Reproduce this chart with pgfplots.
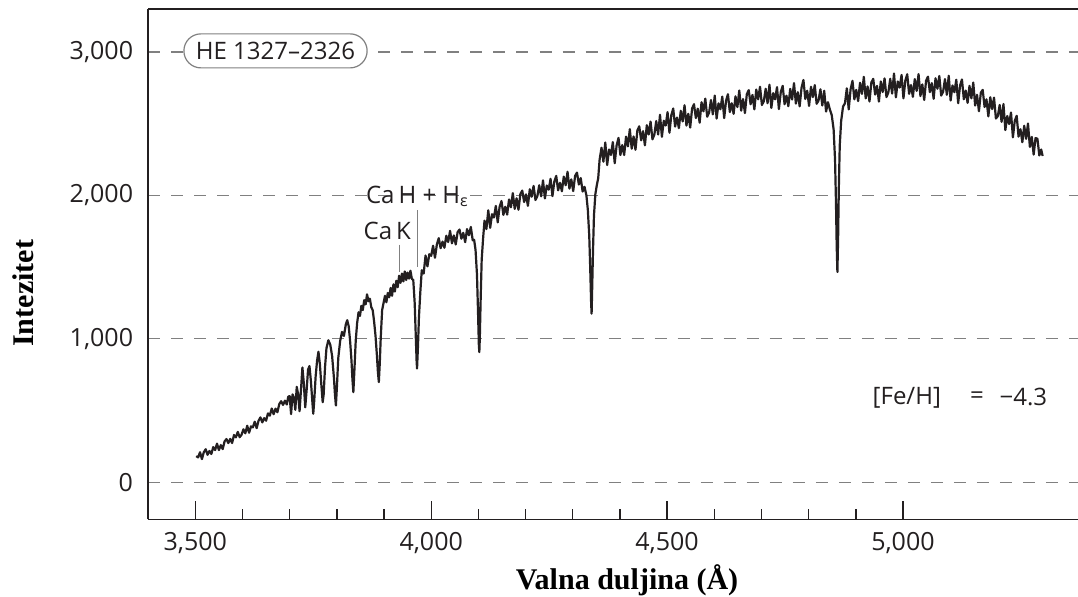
\documentclass[border=0pt]{standalone}
\usepackage{fontspec}
\setmainfont{Open Sans}
\newfontfamily\seriffont{Liberation Serif}
\usepackage{pgfplots}
\usepackage{pgfplotstable}
\pgfplotsset{compat=1.18}
\definecolor{gridgray}{RGB}{128,128,128}
\definecolor{ink}{RGB}{35,31,32}
\pgfplotstableread{
lam I
3502 182
3506 173
3510 209
3514 161
3518 209
3522 230
3526 191
3530 218
3534 197
3538 245
3542 224
3546 269
3550 224
3554 259
3558 231
3562 284
3566 301
3570 273
3574 302
3578 273
3582 329
3586 313
3590 351
3594 314
3598 331
3602 369
3606 341
3610 394
3614 345
3618 389
3622 383
3626 422
3630 377
3634 428
3638 452
3642 417
3646 447
3650 429
3654 480
3658 464
3662 514
3666 474
3670 513
3674 488
3678 545
3682 565
3686 539
3690 569
3694 542
3697 597
3700 600
3703 475
3706 612
3709 592
3712 505
3715 665
3718 612
3721 495
3724 645
3727 800
3730 690
3733 522
3736 645
3739 785
3742 810
3745 705
3748 565
3750 477
3752 565
3755 735
3758 845
3761 910
3764 825
3767 685
3770 558
3772 610
3775 805
3778 935
3782 990
3786 960
3790 880
3794 720
3796 610
3798 535
3800 655
3803 865
3807 985
3811 1048
3815 1020
3819 1100
3822 1130
3825 1090
3828 990
3831 850
3833 720
3835 628
3837 765
3840 985
3843 1110
3846 1185
3849 1160
3852 1230
3855 1200
3858 1270
3861 1240
3864 1310
3867 1262
3870 1280
3873 1220
3876 1200
3879 1120
3882 1020
3885 880
3887 770
3889 698
3891 830
3893 1005
3896 1200
3899 1250
3902 1300
3905 1255
3908 1320
3911 1290
3914 1355
3917 1300
3920 1380
3923 1330
3926 1405
3929 1360
3932 1440
3935 1390
3938 1455
3941 1400
3944 1470
3947 1410
3950 1462
3953 1420
3956 1475
3959 1418
3962 1410
3965 1250
3967 1050
3969 850
3970 793
3972 950
3974 1150
3977 1330
3980 1478
3984 1455
3988 1581
3992 1505
3996 1590
4000 1579
4004 1649
4008 1565
4012 1658
4016 1702
4020 1632
4024 1678
4028 1635
4032 1719
4036 1675
4040 1753
4044 1666
4048 1721
4052 1658
4056 1744
4060 1762
4064 1698
4068 1739
4072 1674
4076 1765
4080 1722
4084 1780
4088 1687
4091 1690
4094 1620
4097 1450
4099 1220
4101 960
4102 907
4103 1000
4105 1300
4107 1550
4110 1700
4113 1824
4117 1765
4121 1896
4125 1774
4129 1869
4133 1846
4137 1927
4141 1812
4145 1921
4149 1961
4153 1864
4157 1921
4161 1866
4165 1972
4169 1917
4173 2016
4177 1906
4181 1980
4185 1900
4189 2009
4193 2034
4197 1954
4201 2007
4205 1927
4209 2043
4213 1991
4217 2066
4221 1968
4225 1995
4229 2071
4233 1994
4237 2105
4241 1979
4245 2069
4249 2040
4253 2116
4257 1995
4261 2097
4265 2136
4269 2035
4273 2088
4277 2029
4281 2131
4285 2071
4289 2165
4293 2047
4297 2112
4301 2030
4305 2136
4309 2159
4313 2076
4317 2121
4321 2027
4325 2060
4329 2000
4332 1900
4335 1720
4337 1500
4339 1250
4340 1175
4341 1320
4343 1620
4345 1860
4348 2010
4351 2070
4354 2120
4357 2250
4361 2333
4365 2235
4369 2369
4373 2212
4377 2320
4381 2282
4385 2372
4389 2225
4393 2349
4397 2401
4401 2282
4405 2351
4409 2282
4413 2410
4417 2342
4421 2462
4425 2326
4429 2411
4433 2318
4437 2453
4441 2482
4445 2384
4449 2448
4453 2349
4457 2490
4461 2425
4465 2515
4469 2391
4473 2424
4477 2519
4481 2425
4485 2562
4489 2409
4493 2521
4497 2487
4501 2581
4505 2437
4509 2560
4513 2606
4517 2480
4521 2543
4525 2469
4529 2590
4533 2516
4537 2629
4541 2487
4545 2569
4549 2473
4553 2606
4557 2636
4561 2540
4565 2605
4569 2507
4573 2650
4577 2586
4581 2675
4585 2549
4589 2577
4593 2665
4597 2565
4601 2696
4605 2536
4609 2642
4613 2601
4617 2689
4621 2539
4625 2660
4629 2706
4633 2581
4637 2643
4641 2569
4645 2691
4649 2616
4653 2732
4657 2591
4661 2672
4665 2574
4669 2706
4673 2734
4677 2636
4681 2701
4685 2600
4689 2738
4693 2670
4697 2758
4701 2631
4705 2657
4709 2744
4713 2643
4717 2772
4721 2610
4725 2713
4729 2670
4733 2755
4737 2602
4741 2721
4745 2764
4749 2636
4753 2696
4757 2622
4761 2743
4765 2669
4769 2783
4773 2640
4777 2720
4781 2621
4785 2751
4789 2805
4793 2673
4797 2730
4801 2624
4805 2758
4809 2686
4813 2769
4817 2639
4821 2662
4825 2740
4829 2627
4833 2730
4837 2585
4841 2650
4845 2600
4849 2560
4853 2460
4856 2250
4858 1950
4859.5 1650
4861 1466
4862.5 1700
4864 2050
4866 2350
4869 2520
4873 2620
4877 2642
4881 2747
4885 2600
4889 2741
4893 2799
4897 2670
4901 2736
4905 2658
4909 2786
4913 2708
4917 2827
4921 2677
4925 2760
4929 2655
4933 2788
4937 2813
4941 2703
4945 2764
4949 2654
4953 2795
4957 2721
4961 2816
4965 2686
4969 2718
4973 2813
4977 2710
4981 2850
4985 2684
4989 2795
4993 2752
4997 2840
5001 2677
5005 2801
5009 2845
5013 2708
5017 2770
5021 2687
5025 2811
5029 2729
5033 2846
5037 2693
5041 2774
5045 2666
5049 2801
5053 2828
5057 2720
5061 2783
5065 2674
5069 2817
5073 2744
5077 2833
5081 2696
5085 2722
5089 2811
5093 2702
5097 2835
5101 2662
5105 2767
5109 2720
5113 2807
5117 2643
5121 2766
5125 2809
5129 2671
5133 2731
5137 2645
5141 2764
5145 2677
5149 2787
5153 2627
5157 2702
5161 2587
5165 2716
5169 2736
5173 2617
5177 2670
5181 2551
5185 2685
5189 2602
5193 2682
5197 2536
5201 2553
5205 2631
5209 2513
5213 2637
5217 2456
5221 2554
5225 2498
5229 2578
5233 2405
5237 2521
5241 2555
5245 2410
5249 2462
5253 2371
5257 2486
5261 2395
5265 2501
5269 2338
5273 2408
5277 2285
5281 2400
5285 2395
5289 2279
5293 2320
5296 2275
}\spectrum
\begin{document}
\begin{tikzpicture}
\path[use as bounding box] (-74pt,-38.5pt) rectangle (464.5pt,259.5pt);
\begin{axis}[
  scale only axis, width=464.5pt, height=255pt,
  xmin=3400, xmax=5371, ymin=-260, ymax=3300,
  axis x line*=bottom, axis y line*=left,
  axis line style={-, line width=0.8pt, ink},
  xtick={3500,4000,4500,5000}, minor x tick num=4,
  ytick={0,1000,2000,3000},
  tick align=inside,
  major tick length=9pt, minor tick length=5.3pt,
  xtick style={line width=0.7pt, ink},
  ytick style={draw=none},
  ymajorgrids,
  major grid style={gridgray, line width=0.6pt, dash pattern=on 6pt off 5.5pt},
  /pgf/number format/1000 sep={,},
  /pgf/number format/assume math mode=true,
  ticklabel style={font=\fontsize{12.5}{14}\selectfont, text=ink},
  xticklabel style={yshift=-3pt},
  yticklabel style={xshift=-4pt},
  xlabel={Valna duljina (Å)}, ylabel={Intezitet},
  xlabel style={font=\seriffont\bfseries\fontsize{15}{17}\selectfont, text=black,
    at={(axis description cs:0.515,-0.1196)}, anchor=center},
  ylabel style={font=\seriffont\bfseries\fontsize{15}{17}\selectfont, text=black,
    at={(axis description cs:-0.1346,0.443)}, anchor=center},
  clip=false,
]
\draw[ink, line width=0.8pt] (rel axis cs:0,1) -- (rel axis cs:1,1);
\addplot[ink, line width=1.1pt, line join=round, mark=none] table[x=lam, y=I] {\spectrum};
\node[draw=gridgray, line width=0.6pt, fill=white, rounded corners=8.5pt, minimum height=17pt,
  inner xsep=6pt, inner ysep=1pt, font=\fontsize{12}{14}\selectfont, text=ink]
  at (axis cs:3670,3008) {HE 1327–2326};
\node[font=\fontsize{12}{14}\selectfont, text=ink] at (axis cs:3907,1750) {Ca\,K};
\draw[gridgray, line width=0.5pt] (axis cs:3932,1657) -- (axis cs:3932,1465);
\node[font=\fontsize{12}{14}\selectfont, text=ink, anchor=west, inner xsep=0pt] at (axis cs:3861,1994) {Ca\,H + H\textsubscript{ε}};
\draw[gridgray, line width=0.5pt] (axis cs:3970,1896) -- (axis cs:3970,1500);
\node[font=\fontsize{12}{14}\selectfont, text=ink, anchor=west, inner xsep=0pt] at (axis cs:4935,591) {[Fe/H]};
\node[font=\fontsize{12}{14}\selectfont, text=ink] at (axis cs:5157,591) {=};
\node[font=\fontsize{12}{14}\selectfont, text=ink, anchor=west, inner xsep=0pt] at (axis cs:5204,591) {−4.3};
\end{axis}
\end{tikzpicture}
\end{document}
